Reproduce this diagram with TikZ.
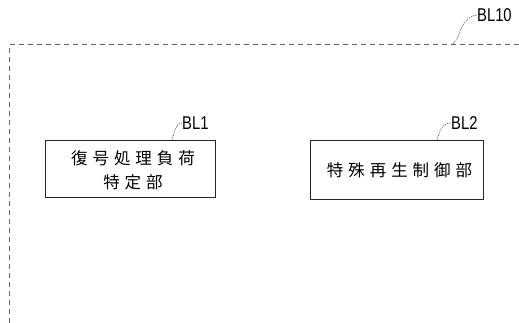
\documentclass[tikz,border=0pt]{standalone}
\usepackage{fontspec}
\newfontfamily\jp[LetterSpace=30]{Noto Sans CJK JP}
\newfontfamily\lab{Liberation Sans}
\begin{document}
\begin{tikzpicture}[x=1pt,y=-1pt,
  blk/.style={draw=black!85,line width=0.9pt,inner sep=0pt},
  jt/.style={font=\jp\fontsize{16.5}{24}\selectfont,align=center,inner sep=0pt},
  reflab/.style={font=\lab\fontsize{18.5}{18.5}\selectfont,inner sep=0pt,anchor=west,xscale=0.8},
  leader/.style={draw=black!70,line width=0.6pt,dash pattern=on 1.2pt off 1pt}]
\useasboundingbox (0,0) rectangle (519,323);
% outer dashed frame
\coordinate (fTL) at (9,45);
\coordinate (fTR) at (519,45);
\coordinate (fBL) at (9,323);
\draw[black!60,line width=1pt,dash pattern=on 5pt off 4pt] (fBL) -- (fTL) -- (fTR);
\node[reflab] (bl10) at (477,15) {BL10};
\coordinate (l10) at (451,45);
\draw[leader] (l10) .. controls (462,40) and (458,18) .. (bl10.west);
% block 1
\draw[blk] (45,140) rectangle (215,197);
\coordinate (b1top) at (172,140);
\node[jt] (t1) at (133,158) {復号処理負荷};
\node[jt] (t1b) at (133,182) {特定部};
\node[reflab] (bl1) at (182,123) {BL1};
\draw[leader] (b1top) .. controls (175,130) and (176,123) .. (bl1.west);
% block 2
\draw[blk] (310,140) rectangle (483,199);
\coordinate (b2top) at (437,140);
\node[jt] (t2) at (399.5,170) {特殊再生制御部};
\node[reflab] (bl2) at (451,123) {BL2};
\draw[leader] (b2top) .. controls (440,130) and (442,123) .. (bl2.west);
\end{tikzpicture}
\end{document}
